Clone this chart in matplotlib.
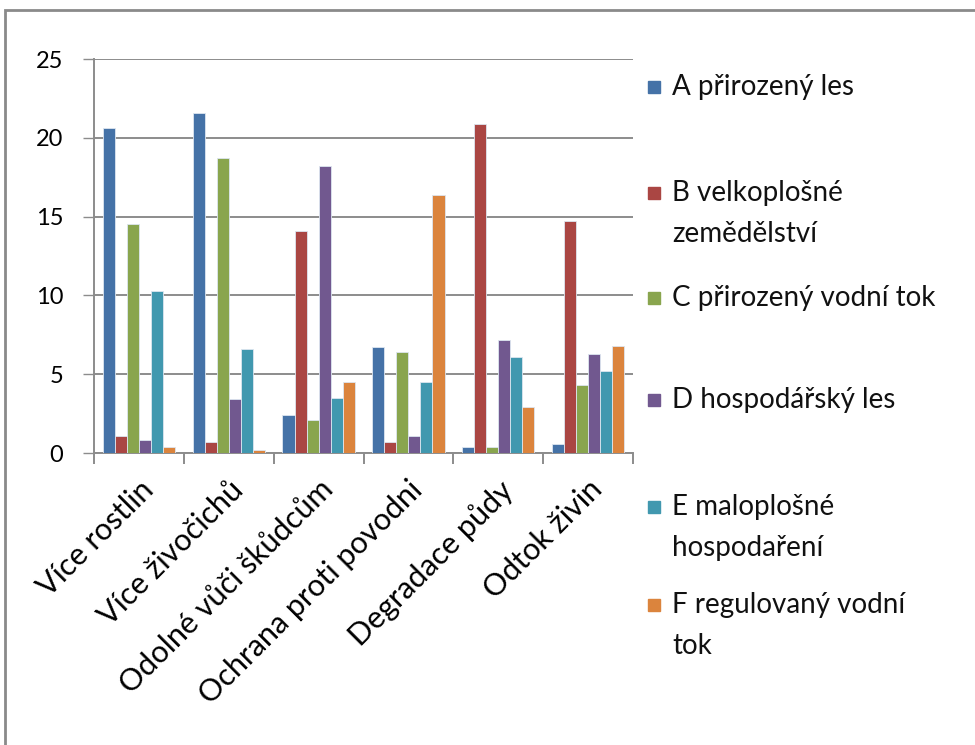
import matplotlib
matplotlib.use('Agg')
import matplotlib.pyplot as plt
import matplotlib.transforms as mtransforms
import numpy as np
from matplotlib.patches import Rectangle

plt.rcParams['font.family'] = ['Lato', 'DejaVu Sans']

# kategorie na ose x
kategorie = ['Více rostlin', 'Více živočichů', 'Odolné vůči škůdcům',
             'Ochrana proti povodni', 'Degradace půdy', 'Odtok živin']

# hodnoty jednotlivých řad
a_prirozeny_les = [20.6, 21.6, 2.4, 6.7, 0.4, 0.6]
b_velkoplosne = [1.1, 0.7, 14.1, 0.7, 20.9, 14.7]
c_prirozeny_tok = [14.5, 18.7, 2.1, 6.4, 0.4, 4.3]
d_hospodarsky_les = [0.8, 3.4, 18.2, 1.1, 7.2, 6.3]
e_maloplosne = [10.3, 6.6, 3.5, 4.5, 6.1, 5.2]
f_regulovany_tok = [0.4, 0.2, 4.5, 16.4, 2.9, 6.8]

nazvy = ['A přirozený les', 'B velkoplošné\nzemědělství', 'C přirozený vodní tok',
         'D hospodářský les', 'E maloplošné\nhospodaření', 'F regulovaný vodní\ntok']
rady = [a_prirozeny_les, b_velkoplosne, c_prirozeny_tok,
        d_hospodarsky_les, e_maloplosne, f_regulovany_tok]
barvy = ['#4572A7', '#AA4643', '#89A54E', '#71588F', '#4198AF', '#DB843D']

W, H = 975, 745
fig = plt.figure(figsize=(W / 100, H / 100), dpi=100)

# rámeček kolem celého grafu
fig.patches.append(Rectangle((5 / W, -0.05), 1.1, 1 - 10 / H + 0.05, transform=fig.transFigure,
                             fill=False, edgecolor='#8a8a8a', linewidth=2))

ax = fig.add_axes([94 / W, 1 - 453 / H, 539 / W, 394 / H])

x = np.arange(len(kategorie))
sirka = 0.134
for i, (hodnoty, barva) in enumerate(zip(rady, barvy)):
    ax.bar(x + (i - 2.5) * sirka, hodnoty, sirka, color=barva,
           edgecolor='#dde6f0', linewidth=0.6, zorder=3)

ax.set_ylim(0, 25)
ax.set_xlim(-0.5, len(kategorie) - 0.5)
ax.set_yticks([0, 5, 10, 15, 20, 25])
ax.yaxis.grid(True, color='#8c8c8c', linewidth=1.4, zorder=0)
ax.tick_params(axis='y', length=8, width=1, color='#8c8c8c', pad=14, labelsize=17)

ax.set_xticks(x)
ax.set_xticklabels(kategorie, rotation=45, ha='right', va='top',
                   rotation_mode='anchor', fontsize=22)
ax.tick_params(axis='x', which='major', length=0, pad=16)
posun = mtransforms.ScaledTranslation(0, 0, fig.dpi_scale_trans)
for lbl in ax.get_xticklabels():
    lbl.set_transform(lbl.get_transform() + posun)
ax.set_xticks(np.arange(-0.5, len(kategorie)), minor=True)
ax.tick_params(axis='x', which='minor', length=8, width=1.4, color='#8c8c8c')

for s in ['top', 'right']:
    ax.spines[s].set_visible(False)
for s in ['left', 'bottom']:
    ax.spines[s].set_color('#8c8c8c')
    ax.spines[s].set_linewidth(1.4)

# legenda vpravo
y_start = [87, 193, 298, 400, 507, 605]
for nazev, barva, yy in zip(nazvy, barvy, y_start):
    fig.patches.append(Rectangle((648 / W, 1 - (yy + 6) / H), 12 / W, 12 / H,
                                 transform=fig.transFigure, color=barva))
    for j, radek in enumerate(nazev.split('\n')):
        fig.text(672 / W, 1 - (yy + j * 41) / H, radek, fontsize=20,
                 va='center', ha='left', color='#111111')

fig.savefig('out.png', dpi=100)
